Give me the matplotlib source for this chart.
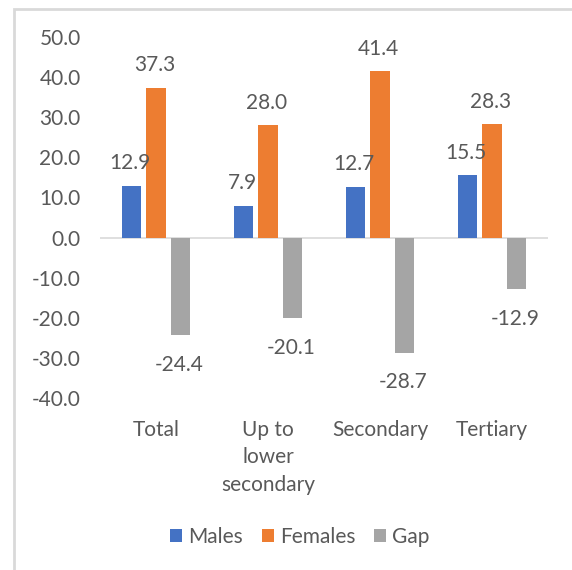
import matplotlib.pyplot as plt
from matplotlib.patches import Rectangle
import numpy as np

# employment-rate style gap by education level
categories = ['Total', 'Up to\nlower\nsecondary', 'Secondary', 'Tertiary']
males = [12.9, 7.9, 12.7, 15.5]
females = [37.3, 28.0, 41.4, 28.3]
gap = [-24.4, -20.1, -28.7, -12.9]

series = [('Males', males, '#4472C4'),
          ('Females', females, '#ED7D31'),
          ('Gap', gap, '#A5A5A5')]

plt.rcParams['font.family'] = ['Lato', 'DejaVu Sans']
text_col = '#595959'
W, H = 572, 570

fig = plt.figure(figsize=(W / 100, H / 100), dpi=100)
ax = fig.add_axes([100 / W, 1 - 398 / H, 448 / W, 361 / H])

# chart frame (only top and left edges fall inside the image)
fig.patches.append(Rectangle((14 / W, -0.1), 1.2, 1 - 9 / H + 0.1,
                             transform=fig.transFigure, fill=False,
                             edgecolor='#D9D9D9', linewidth=2))

x = np.arange(len(categories))
width = 0.175
offsets = [-0.218, 0.0, 0.218]

for (name, vals, col), off in zip(series, offsets):
    bars = ax.bar(x + off, vals, width, color=col, label=name, zorder=2)
    for b, v in zip(bars, vals):
        if v >= 0:
            ax.annotate(f'{v:.1f}', (b.get_x() + b.get_width() / 2, v),
                        xytext=(-1, 9), textcoords='offset points',
                        ha='center', va='bottom', fontsize=15, color=text_col)
        else:
            ax.annotate(f'{v:.1f}', (b.get_x() + b.get_width() / 2, v),
                        xytext=(-1, -14), textcoords='offset points',
                        ha='center', va='top', fontsize=15, color=text_col)

ax.axhline(0, color='#D9D9D9', linewidth=1.2, zorder=1)
ax.set_xlim(-0.5, len(categories) - 0.5)
ax.set_ylim(-40, 50)
ax.set_yticks(np.arange(-40, 51, 10))
ax.set_yticklabels([f'{t:.1f}' for t in np.arange(-40, 51, 10)])
ax.set_xticks(x)
ax.set_xticklabels(categories, linespacing=1.45)
ax.tick_params(axis='y', length=0, pad=14, labelsize=15, labelcolor=text_col)
ax.tick_params(axis='x', length=0, pad=16, labelsize=15, labelcolor=text_col)
for s in ax.spines.values():
    s.set_visible(False)

fig.legend(loc='center', bbox_to_anchor=(300 / W, 1 - 537 / H), ncol=3,
           frameon=False, fontsize=15, labelcolor=text_col,
           handlelength=0.57, handleheight=0.57, handletextpad=0.3,
           columnspacing=0.9)

fig.savefig('out.png', dpi=100)
